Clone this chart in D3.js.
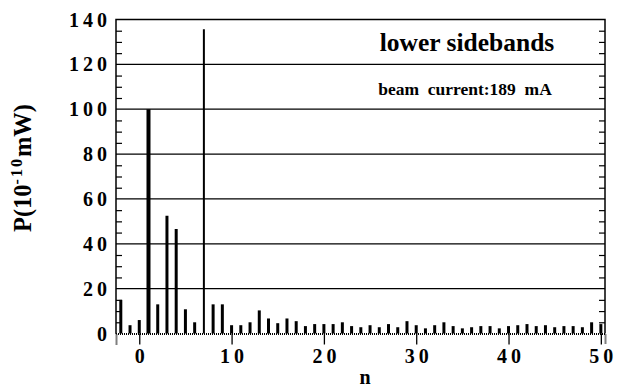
<!DOCTYPE html>
<html><head><meta charset="utf-8">
<script src="https://cdn.jsdelivr.net/npm/d3@7"></script>
<style>
body{margin:0;background:#fff}
svg text{font-family:"Liberation Serif","Times New Roman",Tinos,"DejaVu Serif",serif !important;font-weight:bold}
</style>
</head><body>
<svg id="c" width="623" height="390"></svg>
<script>
const nValues = [-2,-1,0,1,2,3,4,5,6,7,8,9,10,11,12,13,14,15,16,17,18,19,20,21,22,23,24,25,26,27,28,29,30,31,32,33,34,35,36,37,38,39,40,41,42,43,44,45,46,47,48,49,50];
const powerValues = [15,3.7,6,100,13,52.5,46.6,10.8,5,135.7,13,13,3.7,3.7,5,10.3,6.7,4.6,6.7,5.5,3.3,4.2,4.2,4.2,5,3.3,2.8,3.7,2.8,4.2,2.8,5.5,3.7,2.3,3.7,5,3.3,2.3,2.8,3.3,3.3,2.3,3.3,3.7,4.2,3.3,3.7,2.8,3.3,3.3,2.8,5,4.2];
const xTicks = [0,10,20,30,40,50];
const yTicks = [0,20,40,60,80,100,120,140];
const titleText = "lower sidebands";
const subText = "beam  current:189  mA";

const svg = d3.select("#c");
const m = {l:116, r:605, t:19.5, b:333.5};
const x = d3.scaleLinear().domain([-2.52, 50.45]).range([m.l, m.r]);
const y = d3.scaleLinear().domain([0, 140]).range([m.b, m.t]);

svg.append("g").selectAll("line").data(yTicks.filter(d=>d>0&&d<140)).join("line")
  .attr("x1", m.l).attr("x2", m.r).attr("y1", d=>y(d)).attr("y2", d=>y(d))
  .attr("stroke","#000").attr("stroke-width",1.2);

const minor = d3.range(5,140,5).filter(v=>v%20!==0);
const gL = svg.append("g").attr("transform",`translate(${m.l},0)`)
  .call(d3.axisRight(y).tickValues(minor).tickSize(6).tickFormat(""));
const gR = svg.append("g").attr("transform",`translate(${m.r},0)`)
  .call(d3.axisLeft(y).tickValues(minor).tickSize(6).tickFormat(""));
[gL,gR].forEach(g=>{g.select(".domain").remove(); g.selectAll("line").attr("stroke-width",1.2);});

svg.append("path").attr("d",`M${m.l},${m.b}V${m.t}H${m.r}V${m.b}`)
  .attr("fill","none").attr("stroke","#000").attr("stroke-width",1.5);

svg.append("g").selectAll("line").data(nValues.map((n,i)=>({n, v:powerValues[i]}))).join("line")
  .attr("x1", d=>x(d.n)).attr("x2", d=>x(d.n))
  .attr("y1", y(0)).attr("y2", d=>y(d.v))
  .attr("stroke","#000").attr("stroke-width", d=>d.v>130?2:(d.v>90?4:3));

const gx = svg.append("g").attr("transform",`translate(0,${m.b})`)
  .call(d3.axisBottom(x).tickValues(xTicks).tickSize(11).tickPadding(2).tickFormat(d=>d));
gx.select(".domain").attr("stroke-dasharray","1,1").attr("stroke-width",2);
gx.selectAll("line").attr("stroke-width",1.3);
gx.selectAll("text").attr("font-size",20).attr("letter-spacing","4px").attr("dy","0.8em")
  .attr("dx","2px");

svg.append("g").selectAll("text").data(yTicks).join("text")
  .attr("x", 111).attr("y", d=>y(d)+7).attr("text-anchor","end")
  .attr("font-size",20).attr("letter-spacing","4px").text(d=>d);

svg.append("text").attr("x",365).attr("y",384).attr("text-anchor","middle")
  .attr("font-size",20).text("n");
const yt = svg.append("text").attr("transform","translate(31,168) rotate(-90)")
  .attr("text-anchor","middle").attr("font-size",24.5);
yt.append("tspan").text("P(10");
yt.append("tspan").attr("dy",-9).attr("font-size",16).attr("letter-spacing","2px").text("-10");
yt.append("tspan").attr("dy",9).text("mW)");

svg.append("text").attr("x",467).attr("y",51).attr("text-anchor","middle")
  .attr("font-size",25.5).text(titleText);
svg.append("text").attr("x",465).attr("y",95).attr("text-anchor","middle")
  .attr("font-size",17.5).attr("style","white-space:pre").text(subText);
</script>
</body></html>
